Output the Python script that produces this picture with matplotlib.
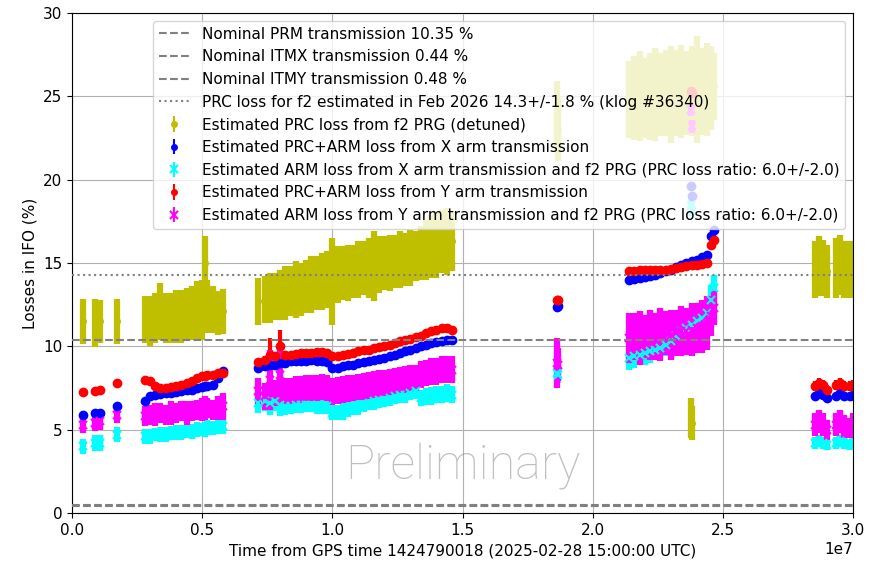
import numpy as np
import matplotlib
matplotlib.use("Agg")
import matplotlib.pyplot as plt

# ====================================================================
# DADOS (tempo em unidades de 1e7 s a partir do GPS 1424790018)
# ====================================================================

t_e7 = [
    0.041, 0.088, 0.108, 0.172,
    0.28, 0.30, 0.32, 0.34, 0.36, 0.38, 0.40, 0.42, 0.44, 0.46, 0.48, 0.50, 0.51, 0.52, 0.54, 0.56, 0.58,
    0.715, 0.74, 0.76, 0.78, 0.80, 0.82, 0.84, 0.86, 0.88, 0.90, 0.92, 0.94, 0.96, 0.98, 1.00,
    1.02, 1.04, 1.06, 1.08, 1.10, 1.12, 1.14, 1.16, 1.18, 1.20, 1.22, 1.24, 1.26, 1.28, 1.30, 1.32,
    1.34, 1.36, 1.38, 1.40, 1.42, 1.44, 1.46,
    1.864, 1.866,
    2.14, 2.16, 2.18, 2.20, 2.22, 2.24, 2.26, 2.28, 2.30, 2.32, 2.34, 2.36, 2.38, 2.40, 2.42, 2.44, 2.455, 2.465,
    2.379, 2.381,
    2.855, 2.87, 2.885, 2.90, 2.935, 2.95, 2.965, 2.99, 3.0,
]

# perda PRC a partir do PRG f2 (amarelo)
prc_f2 = [
    11.5, 11.4, 11.5, 11.5,
    11.6, 11.5, 11.7, 12.1, 11.7, 11.7, 11.8, 11.8, 11.9, 12.0, 12.1, 12.2, 15.0, 12.4, 12.2, 12.0, 12.1,
    12.7, 12.8, 12.9, 13.0, 13.1, 13.2, 13.3, 13.4, 13.4, 13.6, 13.7, 13.8, 13.9, 14.0, 13.9,
    14.3, 14.4, 14.4, 14.5, 14.6, 14.7, 14.7, 14.8, 14.9, 15.0, 15.0, 15.1, 15.2, 15.2, 15.3, 15.4,
    15.6, 15.8, 16.0, 16.1, 16.3, 16.3, 16.3,
    23.9, 23.0,
    24.8, 24.9, 25.0, 24.9, 25.0, 25.1, 25.1, 25.2, 25.1, 25.2, 25.3, 25.2, 25.3, 25.4, 25.3, 25.4, 25.5, 25.6,
    5.7, 5.4,
    14.6, 14.8, 14.7, 14.5, 14.7, 14.9, 14.6, 14.6, 14.7,
]
prc_f2_err = [
    1.35, 1.45, 1.3, 1.35,
    1.4, 1.5, 1.5, 1.7, 1.5, 1.5, 1.6, 1.6, 1.6, 1.6, 1.8, 1.8, 1.6, 1.6, 1.4, 1.3, 1.35,
    1.4, 1.4, 1.5, 1.4, 1.5, 1.6, 1.5, 1.7, 1.6, 1.6, 1.7, 1.6, 1.7, 1.7, 2.6,
    1.7, 1.6, 1.7, 1.6, 1.7, 1.6, 1.8, 2.1, 1.7, 1.6, 1.7, 1.6, 1.7, 1.6, 1.7, 1.5,
    1.6, 1.8, 1.9, 2.0, 1.9, 2.0, 1.8,
    2.0, 1.9,
    2.3, 2.5, 2.7, 2.4, 2.6, 2.8, 2.5, 2.6, 2.9, 2.6, 2.8, 2.5, 2.7, 3.2, 2.6, 2.8, 2.5, 2.0,
    1.2, 1.0,
    1.7, 1.8, 1.7, 1.6, 1.8, 1.8, 1.7, 1.7, 1.6,
]

# PRC+ARM braço X (azul)
x_total = [
    5.9, 6.0, 6.0, 6.4,
    6.7, 7.0, 7.1, 7.15, 7.2, 7.2, 7.25, 7.3, 7.35, 7.4, 7.5, 7.55, 7.6, 7.6, 7.7, 8.1, 8.5,
    8.7, 8.8, 8.9, 8.9, 9.0, 9.0, 9.1, 9.1, 9.1, 9.1, 9.15, 9.1, 9.1, 9.05, 8.7,
    8.7, 8.8, 8.85, 8.9, 9.0, 9.05, 9.1, 9.2, 9.25, 9.3, 9.4, 9.5, 9.6, 9.7, 9.8, 9.9,
    10.0, 10.1, 10.2, 10.25, 10.3, 10.35, 10.4,
    12.35, 12.4,
    14.0, 14.05, 14.1, 14.15, 14.2, 14.3, 14.4, 14.5, 14.6, 14.75, 14.9, 15.0, 15.1, 15.2, 15.35, 15.5, 16.6, 17.0,
    19.6, 19.0,
    7.0, 7.2, 7.1, 6.9, 7.0, 7.2, 7.0, 7.0, 7.1,
]
x_total_err = 0.15

# ARM braço X (ciano)
x_arm = [
    4.0, 4.2, 4.2, 4.7,
    4.6, 4.6, 4.7, 4.7, 4.7, 4.8, 4.8, 4.8, 4.9, 4.9, 5.0, 5.0, 5.0, 5.1, 5.1, 5.2, 5.2,
    6.6, 6.7, 6.6, 6.7, 6.5, 6.4, 6.4, 6.45, 6.5, 6.5, 6.5, 6.45, 6.4, 6.4, 6.0,
    6.05, 6.1, 6.2, 6.3, 6.4, 6.5, 6.6, 6.7, 6.75, 6.8, 6.9, 7.0, 7.05, 7.1, 7.2, 7.3,
    6.9, 7.0, 7.0, 7.1, 7.1, 7.2, 7.1,
    8.4, 8.3,
    9.3, 9.4, 9.5, 9.6, 9.7, 9.8, 9.9, 10.1, 10.3, 10.6, 10.9, 11.1, 11.3, 11.5, 11.7, 12.0, 12.8, 13.5,
    18.5, 18.1,
    4.2, 4.3, 4.2, 4.1, 4.2, 4.3, 4.2, 4.1, 4.2,
]
x_arm_err = [
    0.45, 0.5, 0.5, 0.45,
    0.45, 0.45, 0.4, 0.45, 0.45, 0.4, 0.45, 0.45, 0.4, 0.45, 0.45, 0.4, 0.45, 0.45, 0.4, 0.45, 0.45,
    0.6, 0.6, 0.7, 0.6, 0.7, 0.5, 0.45, 0.45, 0.5, 0.45, 0.45, 0.5, 0.45, 0.45, 0.45,
    0.45, 0.5, 0.45, 0.45, 0.5, 0.45, 0.45, 0.5, 0.45, 0.45, 0.5, 0.45, 0.45, 0.5, 0.45, 0.45,
    0.5, 0.5, 0.55, 0.5, 0.5, 0.55, 0.5,
    0.6, 0.5,
    0.7, 0.7, 0.65, 0.7, 0.7, 0.65, 0.7, 0.7, 0.65, 0.7, 0.7, 0.65, 0.7, 0.7, 0.65, 0.7, 0.9, 0.8,
    0.3, 0.3,
    0.35, 0.35, 0.35, 0.3, 0.35, 0.35, 0.35, 0.3, 0.35,
]

# PRC+ARM braço Y (vermelho)
y_total = [
    7.25, 7.3, 7.4, 7.8,
    7.95, 7.9, 7.6, 7.5, 7.5, 7.55, 7.6, 7.7, 7.8, 7.9, 8.1, 8.2, 8.2, 8.3, 8.3, 8.4, 8.4,
    9.05, 9.2, 9.5, 9.4, 10.0, 9.5, 9.5, 9.55, 9.6, 9.6, 9.6, 9.65, 9.65, 9.6, 9.4,
    9.4, 9.5, 9.55, 9.6, 9.7, 9.75, 9.8, 9.9, 9.95, 10.0, 10.1, 10.2, 10.3, 10.35, 10.45, 10.55,
    10.6, 10.8, 10.9, 11.0, 11.1, 11.1, 11.0,
    12.75, 12.8,
    14.5, 14.5, 14.6, 14.6, 14.6, 14.55, 14.6, 14.6, 14.65, 14.7, 14.75, 14.8, 14.85, 14.9, 14.95, 15.0, 16.1, 16.4,
    25.3, 25.2,
    7.6, 7.8, 7.7, 7.4, 7.7, 7.8, 7.6, 7.6, 7.7,
]
y_total_err = [
    0.15, 0.15, 0.15, 0.15,
    0.15, 0.15, 0.15, 0.15, 0.15, 0.15, 0.15, 0.15, 0.15, 0.15, 0.15, 0.15, 0.15, 0.15, 0.15, 0.15, 0.15,
    0.2, 0.2, 1.0, 0.2, 1.0, 0.2, 0.15, 0.15, 0.15, 0.15, 0.15, 0.15, 0.15, 0.15, 0.15,
    0.15, 0.15, 0.15, 0.15, 0.15, 0.15, 0.15, 0.15, 0.15, 0.15, 0.15, 0.15, 0.15, 0.15, 0.15, 0.15,
    0.2, 0.2, 0.2, 0.2, 0.2, 0.2, 0.2,
    0.15, 0.15,
    0.15, 0.15, 0.15, 0.15, 0.15, 0.15, 0.15, 0.15, 0.15, 0.15, 0.15, 0.15, 0.15, 0.15, 0.15, 0.15, 0.15, 0.15,
    0.15, 0.15,
    0.3, 0.3, 0.3, 0.3, 0.3, 0.3, 0.3, 0.3, 0.3,
]

# ARM braço Y (magenta)
y_arm = [
    5.3, 5.4, 5.5, 5.9,
    5.8, 5.9, 5.9, 6.0, 5.9, 6.0, 6.0, 6.1, 6.0, 6.1, 6.2, 6.2, 6.3, 6.3, 6.2, 6.3, 6.4,
    7.3, 7.0, 8.0, 7.2, 8.3, 7.3, 7.3, 7.4, 7.4, 7.5, 7.5, 7.5, 7.55, 7.5, 7.3,
    7.35, 7.4, 7.45, 7.5, 7.55, 7.6, 7.65, 7.7, 7.75, 7.8, 7.85, 7.9, 7.95, 8.0, 8.05, 8.1,
    8.3, 8.4, 8.5, 8.5, 8.6, 8.6, 8.6,
    9.0, 8.9,
    10.5, 10.6, 10.5, 10.6, 10.7, 10.6, 10.7, 10.8, 10.7, 10.8, 10.9, 10.9, 11.0, 11.1, 11.2, 11.4, 11.8, 12.3,
    24.2, 23.2,
    5.3, 5.5, 5.3, 5.0, 5.3, 5.5, 5.2, 5.1, 5.3,
]
y_arm_err = [
    0.5, 0.5, 0.5, 0.5,
    0.6, 0.6, 0.7, 0.6, 0.6, 0.7, 0.6, 0.6, 0.7, 0.6, 0.6, 0.7, 0.7, 0.6, 0.6, 0.7, 0.8,
    0.8, 0.8, 1.8, 0.8, 1.8, 0.8, 0.8, 0.8, 0.8, 0.8, 0.8, 0.8, 0.8, 0.8, 0.8,
    0.8, 0.8, 0.8, 0.8, 0.8, 0.8, 0.8, 0.8, 0.8, 0.8, 0.8, 0.8, 0.8, 0.8, 0.8, 0.8,
    0.8, 0.8, 0.8, 0.8, 0.8, 0.8, 0.8,
    1.5, 1.0,
    1.5, 1.4, 1.6, 1.3, 1.5, 1.4, 1.6, 1.3, 1.5, 1.4, 1.5, 1.4, 1.6, 1.5, 1.6, 1.6, 1.2, 1.0,
    0.4, 0.4,
    0.7, 0.7, 0.7, 0.6, 0.7, 0.7, 0.7, 0.6, 0.7,
]

# valores nominais (%)
T_PRM = 10.35
T_ITMX = 0.44
T_ITMY = 0.48
PRC_FEB = 14.3

LBL_PRC = 'Estimated PRC loss from f2 PRG (detuned)'
LBL_XTOT = 'Estimated PRC+ARM loss from X arm transmission'
LBL_XARM = 'Estimated ARM loss from X arm transmission and f2 PRG (PRC loss ratio: 6.0+/-2.0)'
LBL_YTOT = 'Estimated PRC+ARM loss from Y arm transmission'
LBL_YARM = 'Estimated ARM loss from Y arm transmission and f2 PRG (PRC loss ratio: 6.0+/-2.0)'

# ====================================================================
# PLOT
# ====================================================================

plt.rcParams['font.size'] = 11

t = np.array(t_e7) * 1e7

fig = plt.figure(figsize=(8.84, 5.61), dpi=100)
ax = fig.add_axes([0.0814, 0.0856, 0.8836, 0.8912])

ax.axhline(T_PRM, color='gray', ls='--', lw=1.5, zorder=3,
           label=f'Nominal PRM transmission {T_PRM} %')
ax.axhline(T_ITMX, color='gray', ls='--', lw=1.5, zorder=3,
           label=f'Nominal ITMX transmission {T_ITMX} %')
ax.axhline(T_ITMY, color='gray', ls='--', lw=1.5, zorder=3,
           label=f'Nominal ITMY transmission {T_ITMY} %')
ax.axhline(PRC_FEB, color='gray', ls=':', lw=1.5, zorder=3,
           label='PRC loss for f2 estimated in Feb 2026 14.3+/-1.8 % (klog #36340)')

# pontos reais (barras grossas para formar as faixas densas)
ax.errorbar(t, prc_f2, yerr=prc_f2_err, fmt='o', color='y', ms=4, elinewidth=4.5)
ax.errorbar(t, x_total, yerr=x_total_err, fmt='o', color='b', ms=6, elinewidth=2)
ax.errorbar(t, x_arm, yerr=x_arm_err, fmt='x', color='cyan', ms=6, mew=1.5, elinewidth=4.5)
ax.errorbar(t, y_total, yerr=y_total_err, fmt='o', color='r', ms=6, elinewidth=3)
ax.errorbar(t, y_arm, yerr=y_arm_err, fmt='x', color='magenta', ms=6, mew=1.5, elinewidth=4.5)

# entradas da legenda com o estilo padrão do errorbar
ax.errorbar([np.nan], [np.nan], yerr=[np.nan], fmt='o', color='y', ms=4, label=LBL_PRC)
ax.errorbar([np.nan], [np.nan], yerr=[np.nan], fmt='o', color='b', ms=4, label=LBL_XTOT)
ax.errorbar([np.nan], [np.nan], yerr=[np.nan], fmt='x', color='cyan', ms=6, mew=1.5, label=LBL_XARM)
ax.errorbar([np.nan], [np.nan], yerr=[np.nan], fmt='o', color='r', ms=4, label=LBL_YTOT)
ax.errorbar([np.nan], [np.nan], yerr=[np.nan], fmt='x', color='magenta', ms=6, mew=1.5, label=LBL_YARM)

ax.text(0.5, 0.092, 'Preliminary', transform=ax.transAxes, ha='center', va='center',
        fontsize=35, color='gray', alpha=0.5, family=['Roboto', 'DejaVu Sans'],
        fontweight='light')

ax.set_xlim(0, 3.0e7)
ax.set_ylim(0, 30)
ax.grid(True)
ax.set_xlabel('Time from GPS time 1424790018 (2025-02-28 15:00:00 UTC)')
ax.set_ylabel('Losses in IFO (%)')
ax.legend(loc='upper right')

fig.savefig('out.png', dpi=100)
